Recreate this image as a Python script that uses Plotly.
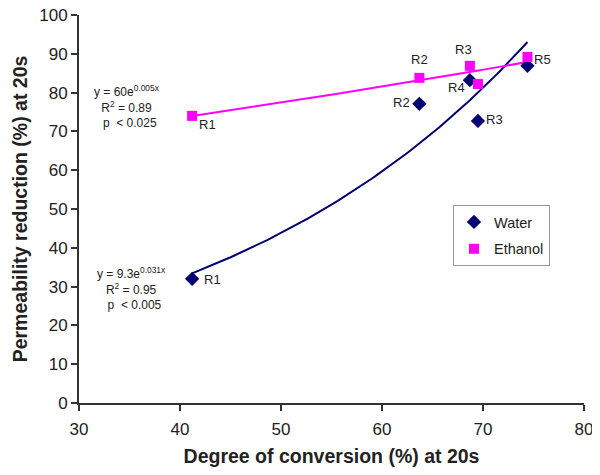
import numpy as np
import plotly.graph_objects as go

# Data
labels = ["R1", "R2", "R3", "R4", "R5"]
water_x = [41.2, 63.7, 69.5, 68.7, 74.4]
water_y = [32.0, 77.1, 72.7, 83.2, 86.9]
ethanol_x = [41.2, 63.7, 68.7, 69.5, 74.4]
ethanol_y = [74.0, 83.8, 86.9, 82.2, 89.2]

water_eq = "y = 9.3e<sup>0.031x</sup><br>R<sup>2</sup> = 0.95<br>  p  < 0.005"
ethanol_eq = "y = 60e<sup>0.005x</sup><br>R<sup>2</sup> = 0.89<br>  p  < 0.025"

NAVY = "#000070"
PINK = "#FF00FF"
FONT = "Liberation Sans, Arial, sans-serif"


def exp_fit(x, y, n=100):
    """Excel-style exponential trendline (least squares on log y)."""
    b, ln_a = np.polyfit(x, np.log(y), 1)
    xs = np.linspace(min(x), max(x), n)
    return xs, np.exp(ln_a) * np.exp(b * xs)


fig = go.Figure()

wx, wy = exp_fit(water_x, water_y)
ex, ey = exp_fit(ethanol_x, ethanol_y)

fig.add_trace(go.Scatter(x=wx, y=wy, mode="lines", line=dict(color=NAVY, width=2),
                         showlegend=False, hoverinfo="skip"))
fig.add_trace(go.Scatter(x=ex, y=ey, mode="lines", line=dict(color=PINK, width=2),
                         showlegend=False, hoverinfo="skip"))

fig.add_trace(go.Scatter(x=water_x, y=water_y, mode="markers", name="Water",
                         legendgroup="w",
                         marker=dict(symbol="diamond", size=11, color=NAVY)))
fig.add_trace(go.Scatter(x=ethanol_x, y=ethanol_y, mode="markers", name="Ethanol",
                         legendgroup="e",
                         marker=dict(symbol="square", size=10, color=PINK)))

# point labels: (dx, dy) pixel offsets, None = no label
water_off = [(20, 1), (-18, -1), (17, -1), None, None]
eth_off = [(15, 9), (0, -18), (-6, -16), (-21, 3), (15, 3)]
for xs_, ys_, offs in [(water_x, water_y, water_off), (ethanol_x, ethanol_y, eth_off)]:
    for i, lab in enumerate(labels):
        if offs[i] is None:
            continue
        dx, dy = offs[i]
        fig.add_annotation(x=xs_[i], y=ys_[i], text=lab, showarrow=False,
                           xshift=dx, yshift=-dy, font=dict(size=13, color="#222222"))

# equation blocks (centre in page pixels; plot area spans x 79-584, y 15-403)
for eq, cx, cy in [(ethanol_eq, 127, 106), (water_eq, 131, 288)]:
    fig.add_annotation(xref="paper", yref="paper",
                       x=(cx - 79) / 505, y=(403 - cy) / 388,
                       xanchor="center", yanchor="middle",
                       text=eq, showarrow=False, align="center",
                       font=dict(size=12, color="#222222"))

axis_common = dict(showline=True, linecolor="#333333", linewidth=2, ticks="outside",
                   ticklen=6, tickcolor="#333333", tickwidth=2, showgrid=False,
                   zeroline=False, automargin=False, ticklabeloverflow="allow",
                   tickfont=dict(size=17, color="#222222"))

# page body has an 8px margin, so the figure is 8px smaller and margins shifted
fig.update_layout(
    width=592, height=467,
    margin=dict(l=71, r=16, t=7, b=72),
    plot_bgcolor="white", paper_bgcolor="white",
    font=dict(family=FONT, color="#222222"),
    xaxis=dict(range=[30, 80], dtick=10, ticklabelstandoff=4, **axis_common,
               title=dict(text="<b>Degree of conversion (%) at 20s</b>",
                          font=dict(size=19.5), standoff=11)),
    yaxis=dict(range=[0, 100], dtick=10, **axis_common,
               title=dict(text="<b>Permeability reduction (%) at 20s</b>",
                          font=dict(size=19.5), standoff=6)),
    legend=dict(x=(453 - 79) / 505, y=(403 - 205) / 388, xanchor="left", yanchor="top",
                bordercolor="#999999", borderwidth=1, bgcolor="white",
                font=dict(size=14.5), itemwidth=30, tracegroupgap=5),
)

fig.write_html("out.html")
